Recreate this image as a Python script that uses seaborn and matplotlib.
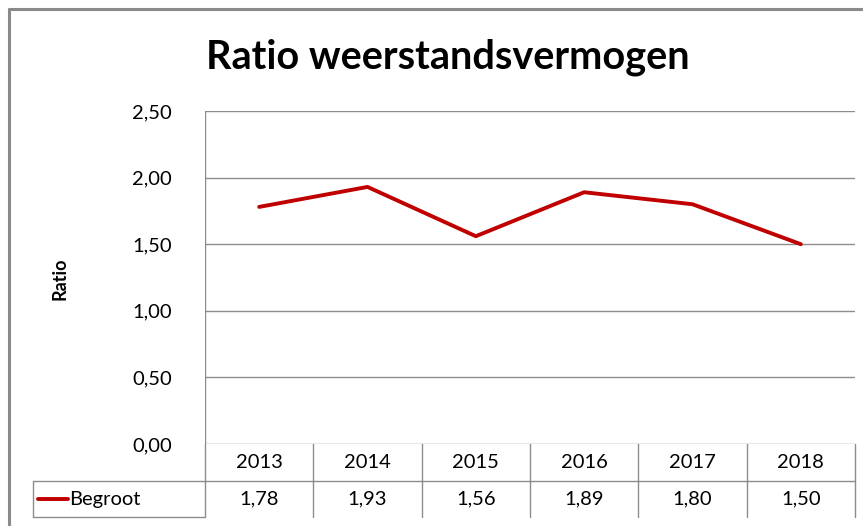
import matplotlib
matplotlib.use("Agg")
import matplotlib.pyplot as plt
import matplotlib.transforms as mtransforms
import seaborn as sns
import pandas as pd

# chart data
years = ["2013", "2014", "2015", "2016", "2017", "2018"]
begroot = [1.78, 1.93, 1.56, 1.89, 1.80, 1.50]
yticks = [0.0, 0.5, 1.0, 1.5, 2.0, 2.5]
series_name = "Begroot"

df = pd.DataFrame({"pos": range(len(years)), "ratio": begroot})

sns.set_style("white")
plt.rcParams["font.family"] = ["Lato", "DejaVu Sans"]
plt.rcParams["text.color"] = "black"
plt.rcParams["ytick.color"] = "black"

W, H = 863, 526
fig = plt.figure(figsize=(W / 100, H / 100), dpi=100)

# plot area in pixels
left, right, top, bottom = 205, 855, 111, 444
ax = fig.add_axes([left / W, 1 - bottom / H, (right - left) / W, (bottom - top) / H])

line_color = "#C00000"
grid_color = "#8c8c8c"
fs = 14.5

sns.lineplot(data=df, x="pos", y="ratio", ax=ax, color=line_color, linewidth=2.8,
             solid_capstyle="round")

ax.set_xlim(-0.5, len(years) - 0.5)
ax.set_ylim(0, 2.5)
ax.set_yticks(yticks)
ax.set_yticklabels([f"{v:.2f}".replace(".", ",") for v in yticks], fontsize=fs)
ax.set_xticks([])
ax.set_xlabel("")
ax.set_ylabel("")
for v in yticks:
    ax.axhline(v, color=grid_color, lw=1.0, zorder=0)
for s in ax.spines.values():
    s.set_visible(False)
ax.axvline(-0.5, color=grid_color, lw=1.0)
ax.tick_params(axis="y", length=0, pad=24)

# data table under the axis
px = 1.0 / (bottom - top)
row1 = -(481 - bottom) * px
row2 = -(517 - bottom) * px
trans = mtransforms.blended_transform_factory(ax.transData, ax.transAxes)
kw = dict(transform=trans, clip_on=False, color=grid_color, lw=1.0)
for i in range(len(years) + 1):
    ax.plot([i - 0.5, i - 0.5], [0, row2], **kw)
ax.plot([-0.5, len(years) - 0.5], [row1, row1], **kw)
for i, (yr, v) in enumerate(zip(years, begroot)):
    ax.text(i, row1 / 2, yr, transform=trans, ha="center", va="center", fontsize=fs)
    ax.text(i, (row1 + row2) / 2, f"{v:.2f}".replace(".", ","), transform=trans,
            ha="center", va="center", fontsize=fs)

# legend cell on the left
xl = (33 - left) / (right - left)
ta = ax.transAxes
ax.plot([xl, 0], [row1, row1], transform=ta, clip_on=False, color=grid_color, lw=1.0)
ax.plot([xl, 0], [row2, row2], transform=ta, clip_on=False, color=grid_color, lw=1.0)
ax.plot([xl, xl], [row1, row2], transform=ta, clip_on=False, color=grid_color, lw=1.0)
ax.plot([(38 - left) / (right - left), (68 - left) / (right - left)],
        [(row1 + row2) / 2] * 2, transform=ta, clip_on=False, color=line_color, lw=2.8)
ax.text((69 - left) / (right - left), (row1 + row2) / 2, series_name, transform=ta,
        ha="left", va="center", fontsize=fs)

# titles
fig.text(448 / W, 1 - 57 / H, "Ratio weerstandsvermogen", ha="center", va="center",
         fontsize=28.5, fontweight="bold")
fig.text(60 / W, 1 - 279 / H, "Ratio", ha="center", va="center", rotation=90,
         fontsize=13, fontweight="bold")

# outer chart frame (top and left edges visible)
fig.add_artist(plt.Line2D([9 / W, 9 / W], [0, 1 - 9 / H], color="#8a8a8a", lw=2.2))
fig.add_artist(plt.Line2D([9 / W, 1], [1 - 9 / H, 1 - 9 / H], color="#8a8a8a", lw=2.2))

fig.savefig("out.png", dpi=100)
